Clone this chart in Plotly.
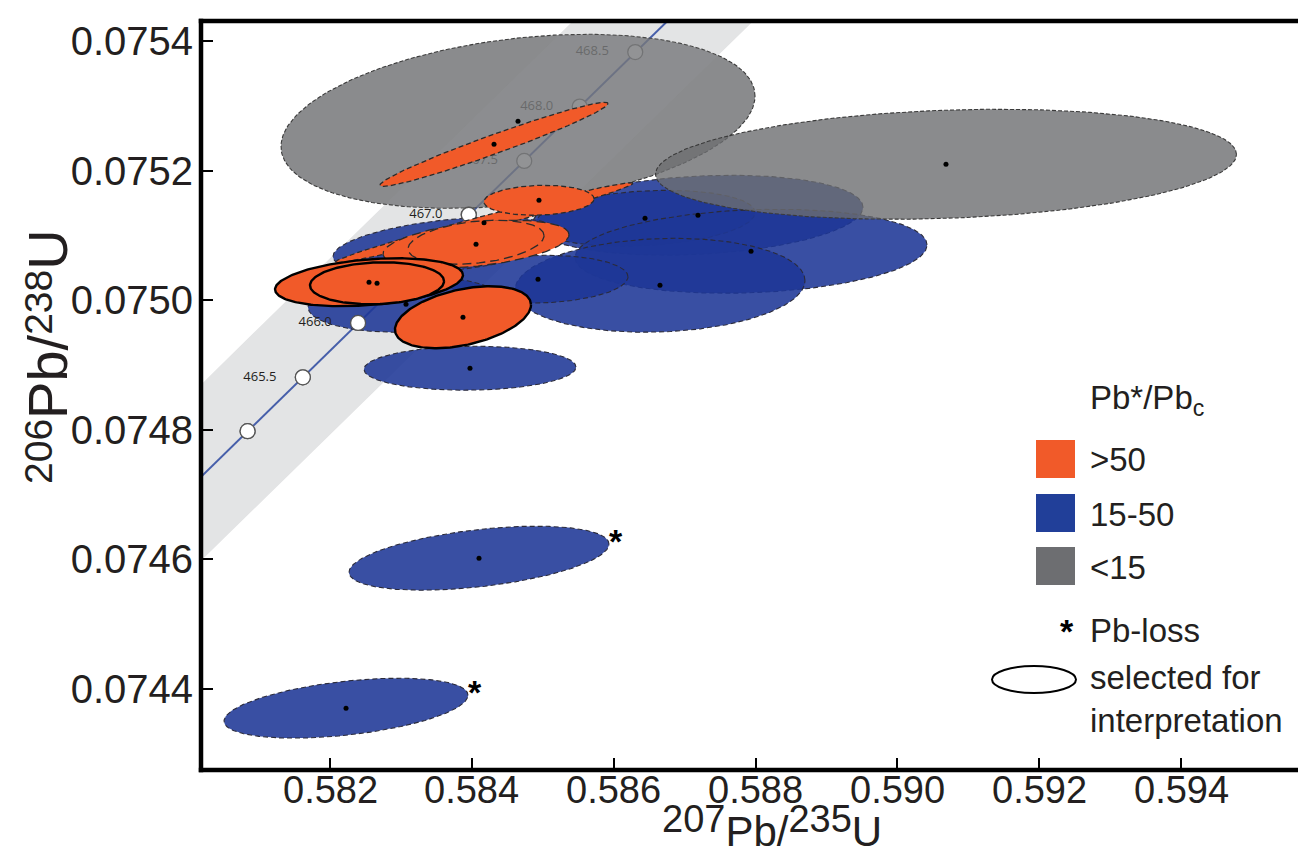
import numpy as np
import plotly.graph_objects as go

# ---------------- axes ----------------
X_RANGE = [0.580181, 0.595833]
Y_RANGE = [0.074275, 0.075431]
x_ticks = [0.582, 0.584, 0.586, 0.588, 0.590, 0.592, 0.594]
x_ticklabels = ["0.582", "0.584", "0.586", "0.588", "0.590", "0.592", "0.594"]
y_ticks = [0.0744, 0.0746, 0.0748, 0.0750, 0.0752, 0.0754]
y_ticklabels = ["0.0744", "0.0746", "0.0748", "0.0750", "0.0752", "0.0754"]

# ---------------- concordia (Ma, 207Pb/235U, 206Pb/238U) ----------------
conc_age = [463.0, 465.0, 465.5, 466.0, 466.5, 467.0, 467.5, 468.0, 468.5, 470.0]
conc_x = [0.577727, 0.580838, 0.581617, 0.582396, 0.583176, 0.583957, 0.584739, 0.585521, 0.586304, 0.588657]
conc_y = [0.074465, 0.074798, 0.074881, 0.074965, 0.075048, 0.075132, 0.075215, 0.075299, 0.075383, 0.075634]
marker_ages = [465.0, 465.5, 466.0, 466.5, 467.0, 467.5, 468.0, 468.5]
low_marker_ages = [465.0, 465.5, 466.0, 466.5, 467.0]
label_ages_low = [465.5, 466.0, 467.0]
label_ages_high = [467.5, 468.0, 468.5]
band_minus = 0.00133   # decay-constant uncertainty band (207/235 direction)
band_plus = 0.00121

# ---------------- ellipses: centre, half-extent x/y, correlation ----------------
# Pb*/Pbc < 15 (grey)
gray_x = [0.584651, 0.590686]
gray_y = [0.0752762, 0.0752099]
gray_sx = [0.003342, 0.004096]
gray_sy = [0.0001343, 0.0000849]
gray_rho = [0.29, 0.18]

# Pb*/Pbc 15-50 (blue)
blue_x = [0.587189, 0.586442, 0.587937, 0.586653, 0.584933, 0.583664, 0.583072, 0.583974, 0.584101, 0.582226]
blue_y = [0.0751312, 0.0751265, 0.0750756, 0.0750231, 0.0750324, 0.0750849, 0.0749938, 0.0748951, 0.0746019, 0.0743704]
blue_sx = [0.002327, 0.001551, 0.002482, 0.002045, 0.001269, 0.001622, 0.001382, 0.001495, 0.001833, 0.001720]
blue_sy = [0.0000617, 0.0000432, 0.0000648, 0.0000725, 0.0000370, 0.0000432, 0.0000432, 0.0000340, 0.0000494, 0.0000463]
blue_rho = [0.20, 0.20, 0.15, 0.10, 0.10, 0.40, 0.10, 0.05, 0.44, 0.43]
blue_dot = [True, True, True, True, True, False, True, True, True, True]
blue_pbloss = [False, False, False, False, False, False, False, False, True, True]

# Pb*/Pbc > 50 (orange)
orange_x = [0.584172, 0.584059, 0.584059, 0.584947, 0.584313, 0.582550, 0.582663, 0.583875]
orange_y = [0.0751196, 0.0750864, 0.0750895, 0.0751543, 0.0752407, 0.0750278, 0.0750262, 0.0749738]
orange_sx = [0.002101, 0.001311, 0.000959, 0.000776, 0.001608, 0.001325, 0.000945, 0.000959]
orange_sy = [0.0000617, 0.0000370, 0.0000340, 0.0000231, 0.0000648, 0.0000370, 0.0000324, 0.0000478]
orange_rho = [0.985, 0.40, 0.30, 0.10, 0.97, 0.30, 0.10, 0.40]
orange_selected = [False, False, False, False, False, True, True, True]
orange_dot = [True, True, False, True, True, True, True, True]

legend_labels = [">50", "15-50", "<15"]

ORANGE = "#F15A29"
BLUE_RGB = (30, 55, 150)
GRAY_RGB = (109, 110, 113)
BLUE_LEG = "#213F99"
GRAY_LEG = "#6D6E71"
TXT = "#231F20"
FONT = "Liberation Sans, Arial, Helvetica, sans-serif"

# plot-area pixel geometry (for legend / label placement)
L, R, T, B = 193, 1303, 13, 762
def pxx(p):
    return (p - L) / (R - L)
def pxy(p):
    return (B - p) / (B - T)


def ellipse(cx, cy, sx, sy, rho, n=240):
    t = np.linspace(0, 2 * np.pi, n)
    ex = cx + sx * np.cos(t)
    ey = cy + sy * (rho * np.cos(t) + np.sqrt(1 - rho ** 2) * np.sin(t))
    return ex, ey


fig = go.Figure()

# concordia uncertainty band
cx_arr = np.array(conc_x)
cy_arr = np.array(conc_y)
band_x = np.concatenate([cx_arr + band_plus, (cx_arr - band_minus)[::-1]])
band_y = np.concatenate([cy_arr, cy_arr[::-1]])
fig.add_trace(go.Scatter(x=band_x, y=band_y, fill="toself", fillcolor="#E1E2E3",
                         line=dict(width=0), mode="lines", hoverinfo="skip"))

# concordia line + markers
fig.add_trace(go.Scatter(x=conc_x, y=conc_y, mode="lines",
                         line=dict(color="#3953A4", width=2), hoverinfo="skip"))
idx = [conc_age.index(a) for a in marker_ages]
fig.add_trace(go.Scatter(x=[conc_x[i] for i in idx], y=[conc_y[i] for i in idx], mode="markers",
                         marker=dict(size=15, color="white", line=dict(color="#555555", width=1.3)),
                         hoverinfo="skip"))
LABEL_DX = 0.000606
def age_labels(ages):
    ii = [conc_age.index(a) for a in ages]
    return go.Scatter(x=[conc_x[i] - LABEL_DX for i in ii], y=[conc_y[i] for i in ii],
                      mode="text", text=["%.1f" % a for a in ages],
                      textfont=dict(size=13, color=TXT, family="Open Sans, " + FONT),
                      hoverinfo="skip")
fig.add_trace(age_labels(label_ages_high))


def add_ell(cx, cy, sx, sy, rho, fill, lc, lw, dash):
    ex, ey = ellipse(cx, cy, sx, sy, rho)
    fig.add_trace(go.Scatter(x=ex, y=ey, mode="lines", fill="toself", fillcolor=fill,
                             line=dict(color=lc, width=lw, dash=dash), hoverinfo="skip"))

# grey ellipse 1 (under the blue ones)
gfill = "rgba(%d,%d,%d,0.80)" % GRAY_RGB
add_ell(gray_x[0], gray_y[0], gray_sx[0], gray_sy[0], gray_rho[0], gfill, "#3a3a3a", 1.1, "4px,2px")
# faint band showing through the grey ellipse
fig.add_trace(go.Scatter(x=band_x, y=band_y, fill="toself", fillcolor="rgba(255,255,255,0.07)",
                         line=dict(width=0), mode="lines", hoverinfo="skip"))

# blue ellipses
bfill = "rgba(%d,%d,%d,0.88)" % BLUE_RGB
for i in range(len(blue_x)):
    add_ell(blue_x[i], blue_y[i], blue_sx[i], blue_sy[i], blue_rho[i], bfill, "#2b2b3a", 1.1, "5px,3px")

# lower concordia markers and labels drawn above the blue
fig.add_trace(age_labels(label_ages_low))
idx2 = [conc_age.index(a) for a in low_marker_ages]
fig.add_trace(go.Scatter(x=[conc_x[i] for i in idx2], y=[conc_y[i] for i in idx2], mode="markers",
                         marker=dict(size=15, color="white", line=dict(color="#555555", width=1.3)),
                         hoverinfo="skip"))

# grey ellipse 2 (over the blue)
add_ell(gray_x[1], gray_y[1], gray_sx[1], gray_sy[1], gray_rho[1], gfill, "#3a3a3a", 1.1, "4px,2px")

# orange ellipses
for i in range(len(orange_x)):
    if orange_selected[i]:
        add_ell(orange_x[i], orange_y[i], orange_sx[i], orange_sy[i], orange_rho[i], ORANGE, "black", 2.4, "solid")
    else:
        dash = "9px,5px" if i in (1, 2) else "5px,3px"
        add_ell(orange_x[i], orange_y[i], orange_sx[i], orange_sy[i], orange_rho[i], ORANGE, "#2b2b2b", 1.3, dash)

# centre dots
dx = gray_x + [blue_x[i] for i in range(len(blue_x)) if blue_dot[i]] + [orange_x[i] for i in range(len(orange_x)) if orange_dot[i]]
dy = gray_y + [blue_y[i] for i in range(len(blue_y)) if blue_dot[i]] + [orange_y[i] for i in range(len(orange_y)) if orange_dot[i]]
fig.add_trace(go.Scatter(x=dx, y=dy, mode="markers", marker=dict(size=5, color="black"), hoverinfo="skip"))

# Pb-loss asterisks (right end of the ellipse)
ax_, ay_ = [], []
for i in range(len(blue_x)):
    if blue_pbloss[i]:
        ax_.append(blue_x[i] + blue_sx[i])
        ay_.append(blue_y[i] + blue_sy[i] * blue_rho[i])
fig.add_trace(go.Scatter(x=ax_, y=ay_, mode="text", text=["<b>*</b>"] * len(ax_), textposition="middle right",
                         textfont=dict(size=34, color="black", family=FONT), hoverinfo="skip", cliponaxis=False))

shapes = []
annotations = []
# frame
shapes.append(dict(type="line", xref="paper", yref="paper", x0=0, x1=0, y0=-0.003, y1=1.003, line=dict(color="black", width=4.5)))
shapes.append(dict(type="line", xref="paper", yref="paper", x0=-0.002, x1=1, y0=0, y1=0, line=dict(color="black", width=4.5)))
shapes.append(dict(type="line", xref="paper", yref="paper", x0=-0.002, x1=1, y0=1, y1=1, line=dict(color="black", width=4.5)))
shapes.append(dict(type="line", xref="paper", yref="paper", x0=1, x1=1, y0=0, y1=1, line=dict(color="black", width=1.5)))

# x tick labels
for v, s in zip(x_ticks, x_ticklabels):
    annotations.append(dict(xref="x", yref="paper", x=v, y=pxy(759), xanchor="center", yanchor="top",
                            text=s, showarrow=False, font=dict(size=38, color=TXT, family=FONT)))

# legend
leg_cols = [ORANGE, BLUE_LEG, GRAY_LEG]
sq_top = [432, 486, 539]
for k in range(3):
    shapes.append(dict(type="rect", xref="paper", yref="paper", x0=pxx(1028), x1=pxx(1067),
                       y0=pxy(sq_top[k] + 38), y1=pxy(sq_top[k]), fillcolor=leg_cols[k], line=dict(width=0)))
    annotations.append(dict(xref="paper", yref="paper", x=pxx(1080), y=pxy(sq_top[k] + 20), xanchor="left", yanchor="middle",
                            text=legend_labels[k], showarrow=False, font=dict(size=33, color=TXT, family=FONT)))
annotations.append(dict(xref="paper", yref="paper", x=pxx(1080), y=pxy(392), xanchor="left", yanchor="middle",
                        text="Pb*/Pb<sub>c</sub>", showarrow=False, font=dict(size=33, color=TXT, family=FONT)))
annotations.append(dict(xref="paper", yref="paper", x=pxx(1068), y=pxy(623), xanchor="right", yanchor="middle",
                        text="<b>*</b>", showarrow=False, font=dict(size=34, color="black", family=FONT)))
annotations.append(dict(xref="paper", yref="paper", x=pxx(1080), y=pxy(622), xanchor="left", yanchor="middle",
                        text="Pb-loss", showarrow=False, font=dict(size=33, color=TXT, family=FONT)))
shapes.append(dict(type="circle", xref="paper", yref="paper", x0=pxx(984), x1=pxx(1068), y0=pxy(685), y1=pxy(658),
                   fillcolor="white", line=dict(color="black", width=2)))
annotations.append(dict(xref="paper", yref="paper", x=pxx(1080), y=pxy(691), xanchor="left", yanchor="middle",
                        text="selected for<br>interpretation", align="left", showarrow=False,
                        font=dict(size=33, color=TXT, family=FONT)))

# axis titles (isotope mass numbers as large superscripts)
def iso_title(m1, m2, big, small):
    return ('<sup><span style="font-size:%dpx">%s</span></sup><span style="font-size:%dpx">Pb/</span>'
            '<sup><span style="font-size:%dpx">%s</span></sup><span style="font-size:%dpx">U</span>'
            % (small, m1, big, small, m2, big))

annotations.append(dict(xref="paper", yref="paper", x=pxx(764), y=pxy(848), xanchor="center", yanchor="bottom",
                        text=iso_title("207", "235", 42, 38), showarrow=False, borderpad=0,
                        font=dict(size=34, color=TXT, family=FONT)))
annotations.append(dict(xref="paper", yref="paper", x=pxx(39), y=pxy(349), xanchor="center", yanchor="middle",
                        text=iso_title("206", "238", 56, 39), textangle=-90, showarrow=False, borderpad=0,
                        font=dict(size=36, color=TXT, family=FONT)))

fig.update_layout(
    width=1306, height=856,
    margin=dict(l=L, r=1306 - R, t=T, b=856 - B),
    paper_bgcolor="white", plot_bgcolor="white",
    showlegend=False,
    shapes=shapes, annotations=annotations,
    xaxis=dict(range=X_RANGE, tickvals=x_ticks, ticks="inside", ticklen=12, showticklabels=False,
               tickwidth=1.5, tickcolor="black", showgrid=False, zeroline=False, showline=False),
    yaxis=dict(range=Y_RANGE, tickvals=y_ticks, ticktext=y_ticklabels, ticks="inside", ticklen=12,
               tickwidth=1.5, tickcolor="black", showgrid=False, zeroline=False, showline=False,
               tickfont=dict(size=40, color=TXT, family=FONT), ticklabelstandoff=7),
)

fig.write_html("out.html")
